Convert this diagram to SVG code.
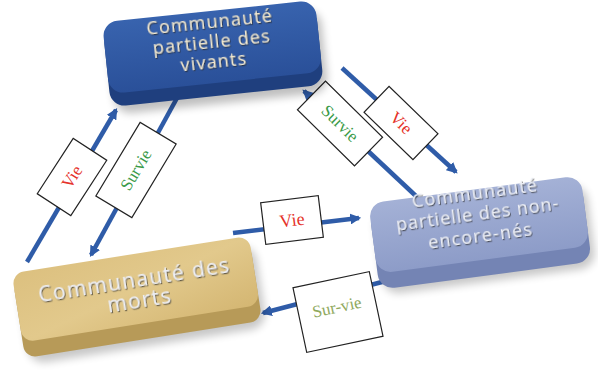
<svg xmlns="http://www.w3.org/2000/svg" width="598" height="377" viewBox="0 0 598 377">
<defs>
<style>
.conn{stroke:#2F5CA8;stroke-width:4.5;fill:none}
.lbl{fill:#ffffff;stroke:#222222;stroke-width:1.2}
.lt{font-family:"Liberation Serif",serif;text-anchor:middle;dominant-baseline:central;font-size:17px}
.red{fill:#E5322A}
.grn{fill:#3A9A48}
.olv{fill:#8FA95E}
.nt{font-family:"Open Sans",sans-serif;text-anchor:middle;filter:url(#ts)}
</style>
<filter id="ts" x="-10%" y="-30%" width="120%" height="160%">
<feDropShadow dx="0.8" dy="1.2" stdDeviation="0.6" flood-color="#2a2a2a" flood-opacity="0.75"/>
</filter>
<filter id="sh" x="-20%" y="-20%" width="140%" height="150%">
<feGaussianBlur stdDeviation="4"/>
</filter>
<linearGradient id="gTop" x1="0" y1="0" x2="0" y2="1">
<stop offset="0" stop-color="#3863AE"/>
<stop offset="1" stop-color="#2A5099"/>
</linearGradient>
<linearGradient id="gRight" x1="0" y1="0" x2="0" y2="1">
<stop offset="0" stop-color="#A4B1D6"/>
<stop offset="1" stop-color="#8D9CC8"/>
</linearGradient>
<linearGradient id="gBot" x1="0" y1="0" x2="1" y2="1">
<stop offset="0" stop-color="#DCC07F"/>
<stop offset="0.5" stop-color="#E2C98C"/>
<stop offset="1" stop-color="#D4B672"/>
</linearGradient>
<marker id="ah" viewBox="0 0 10 10" refX="8" refY="5" markerWidth="11" markerHeight="11" markerUnits="userSpaceOnUse" orient="auto">
<path d="M0,0 L10,5 L0,10 z" fill="#2F5CA8"/>
</marker>
</defs>

<g id="connectors">
<line class="conn" x1="27" y1="262" x2="116" y2="110" marker-end="url(#ah)"/>
<line class="conn" x1="177" y1="98" x2="91" y2="255" marker-end="url(#ah)"/>
<line class="conn" x1="342" y1="68" x2="456" y2="172" marker-end="url(#ah)"/>
<line class="conn" x1="417" y1="197" x2="304" y2="91" marker-end="url(#ah)"/>
<line class="conn" x1="233" y1="233" x2="359" y2="218" marker-end="url(#ah)"/>
<line class="conn" x1="405" y1="276" x2="263" y2="313" marker-end="url(#ah)"/>
</g>

<g id="label-vie-left" transform="translate(72,177) rotate(-57)">
<rect class="lbl" x="-33" y="-20" width="66" height="40"/>
<text class="lt red" x="0" y="0">Vie</text>
</g>
<g id="label-survie-left" transform="translate(136,170) rotate(-59)">
<rect class="lbl" x="-43" y="-21" width="86" height="42"/>
<text class="lt grn" x="0" y="0">Survie</text>
</g>
<g id="label-vie-right" transform="translate(401,123) rotate(44)">
<rect class="lbl" x="-34" y="-18" width="68" height="36"/>
<text class="lt red" x="0" y="0">Vie</text>
</g>
<g id="label-survie-right" transform="translate(340,123.5) rotate(44.5)">
<rect class="lbl" x="-40" y="-20" width="80" height="40"/>
<text class="lt grn" x="0" y="0">Survie</text>
</g>
<g id="label-vie-mid" transform="translate(292,220) rotate(-7)">
<rect class="lbl" x="-29" y="-21" width="58" height="42"/>
<text class="lt red" x="0" y="0" style="font-size:18px">Vie</text>
</g>
<g id="label-survie-bottom" transform="translate(338,312) rotate(-12)">
<rect class="lbl" x="-39" y="-33" width="78" height="66"/>
<text class="lt olv" x="0" y="-5" style="font-size:17px">Sur-vie</text>
</g>

<g id="node-vivants" transform="translate(213,54) rotate(-6)">
<rect x="-103" y="-34" width="214" height="84" rx="16" fill="#000" opacity="0.25" filter="url(#sh)"/>
<rect x="-107" y="-36" width="214" height="78" rx="15" fill="#1F3F7E"/>
<rect x="-107" y="-43" width="214" height="72" rx="15" fill="url(#gTop)"/>
<text class="nt" x="0" y="-26" font-size="18" letter-spacing="1.2" fill="#F4EAD0">Communauté</text>
<text class="nt" x="0" y="-6" font-size="18" letter-spacing="1.2" fill="#F4EAD0">partielle des</text>
<text class="nt" x="0" y="14" font-size="18" letter-spacing="1.2" fill="#F4EAD0">vivants</text>
</g>

<g id="node-non-encore-nes" transform="translate(480,232) rotate(-7.5)">
<rect x="-103" y="-34" width="214" height="84" rx="16" fill="#000" opacity="0.22" filter="url(#sh)"/>
<rect x="-107" y="-36" width="214" height="80" rx="15" fill="#7484B4"/>
<rect x="-107" y="-43" width="214" height="71" rx="15" fill="url(#gRight)"/>
<text class="nt" x="0" y="-33" font-size="18" letter-spacing="1.2" fill="#EEF0F6">Communauté</text>
<text class="nt" x="0" y="-12" font-size="18" letter-spacing="1" fill="#EEF0F6">partielle des non-</text>
<text class="nt" x="0" y="10" font-size="18" letter-spacing="1.2" fill="#EEF0F6">encore-nés</text>
</g>

<g id="node-morts" transform="translate(137,297) rotate(-9)">
<rect x="-116" y="-34" width="240" height="84" rx="16" fill="#000" opacity="0.22" filter="url(#sh)"/>
<rect x="-120" y="-36" width="240" height="79" rx="12" fill="#B79A58"/>
<rect x="-120" y="-43" width="240" height="70" rx="12" fill="url(#gBot)"/>
<text class="nt" x="0" y="-10" font-size="21" letter-spacing="1.4" fill="#EEF0F8">Communauté des</text>
<text class="nt" x="2" y="11" font-size="21" letter-spacing="1.4" fill="#EEF0F8">morts</text>
</g>
</svg>
